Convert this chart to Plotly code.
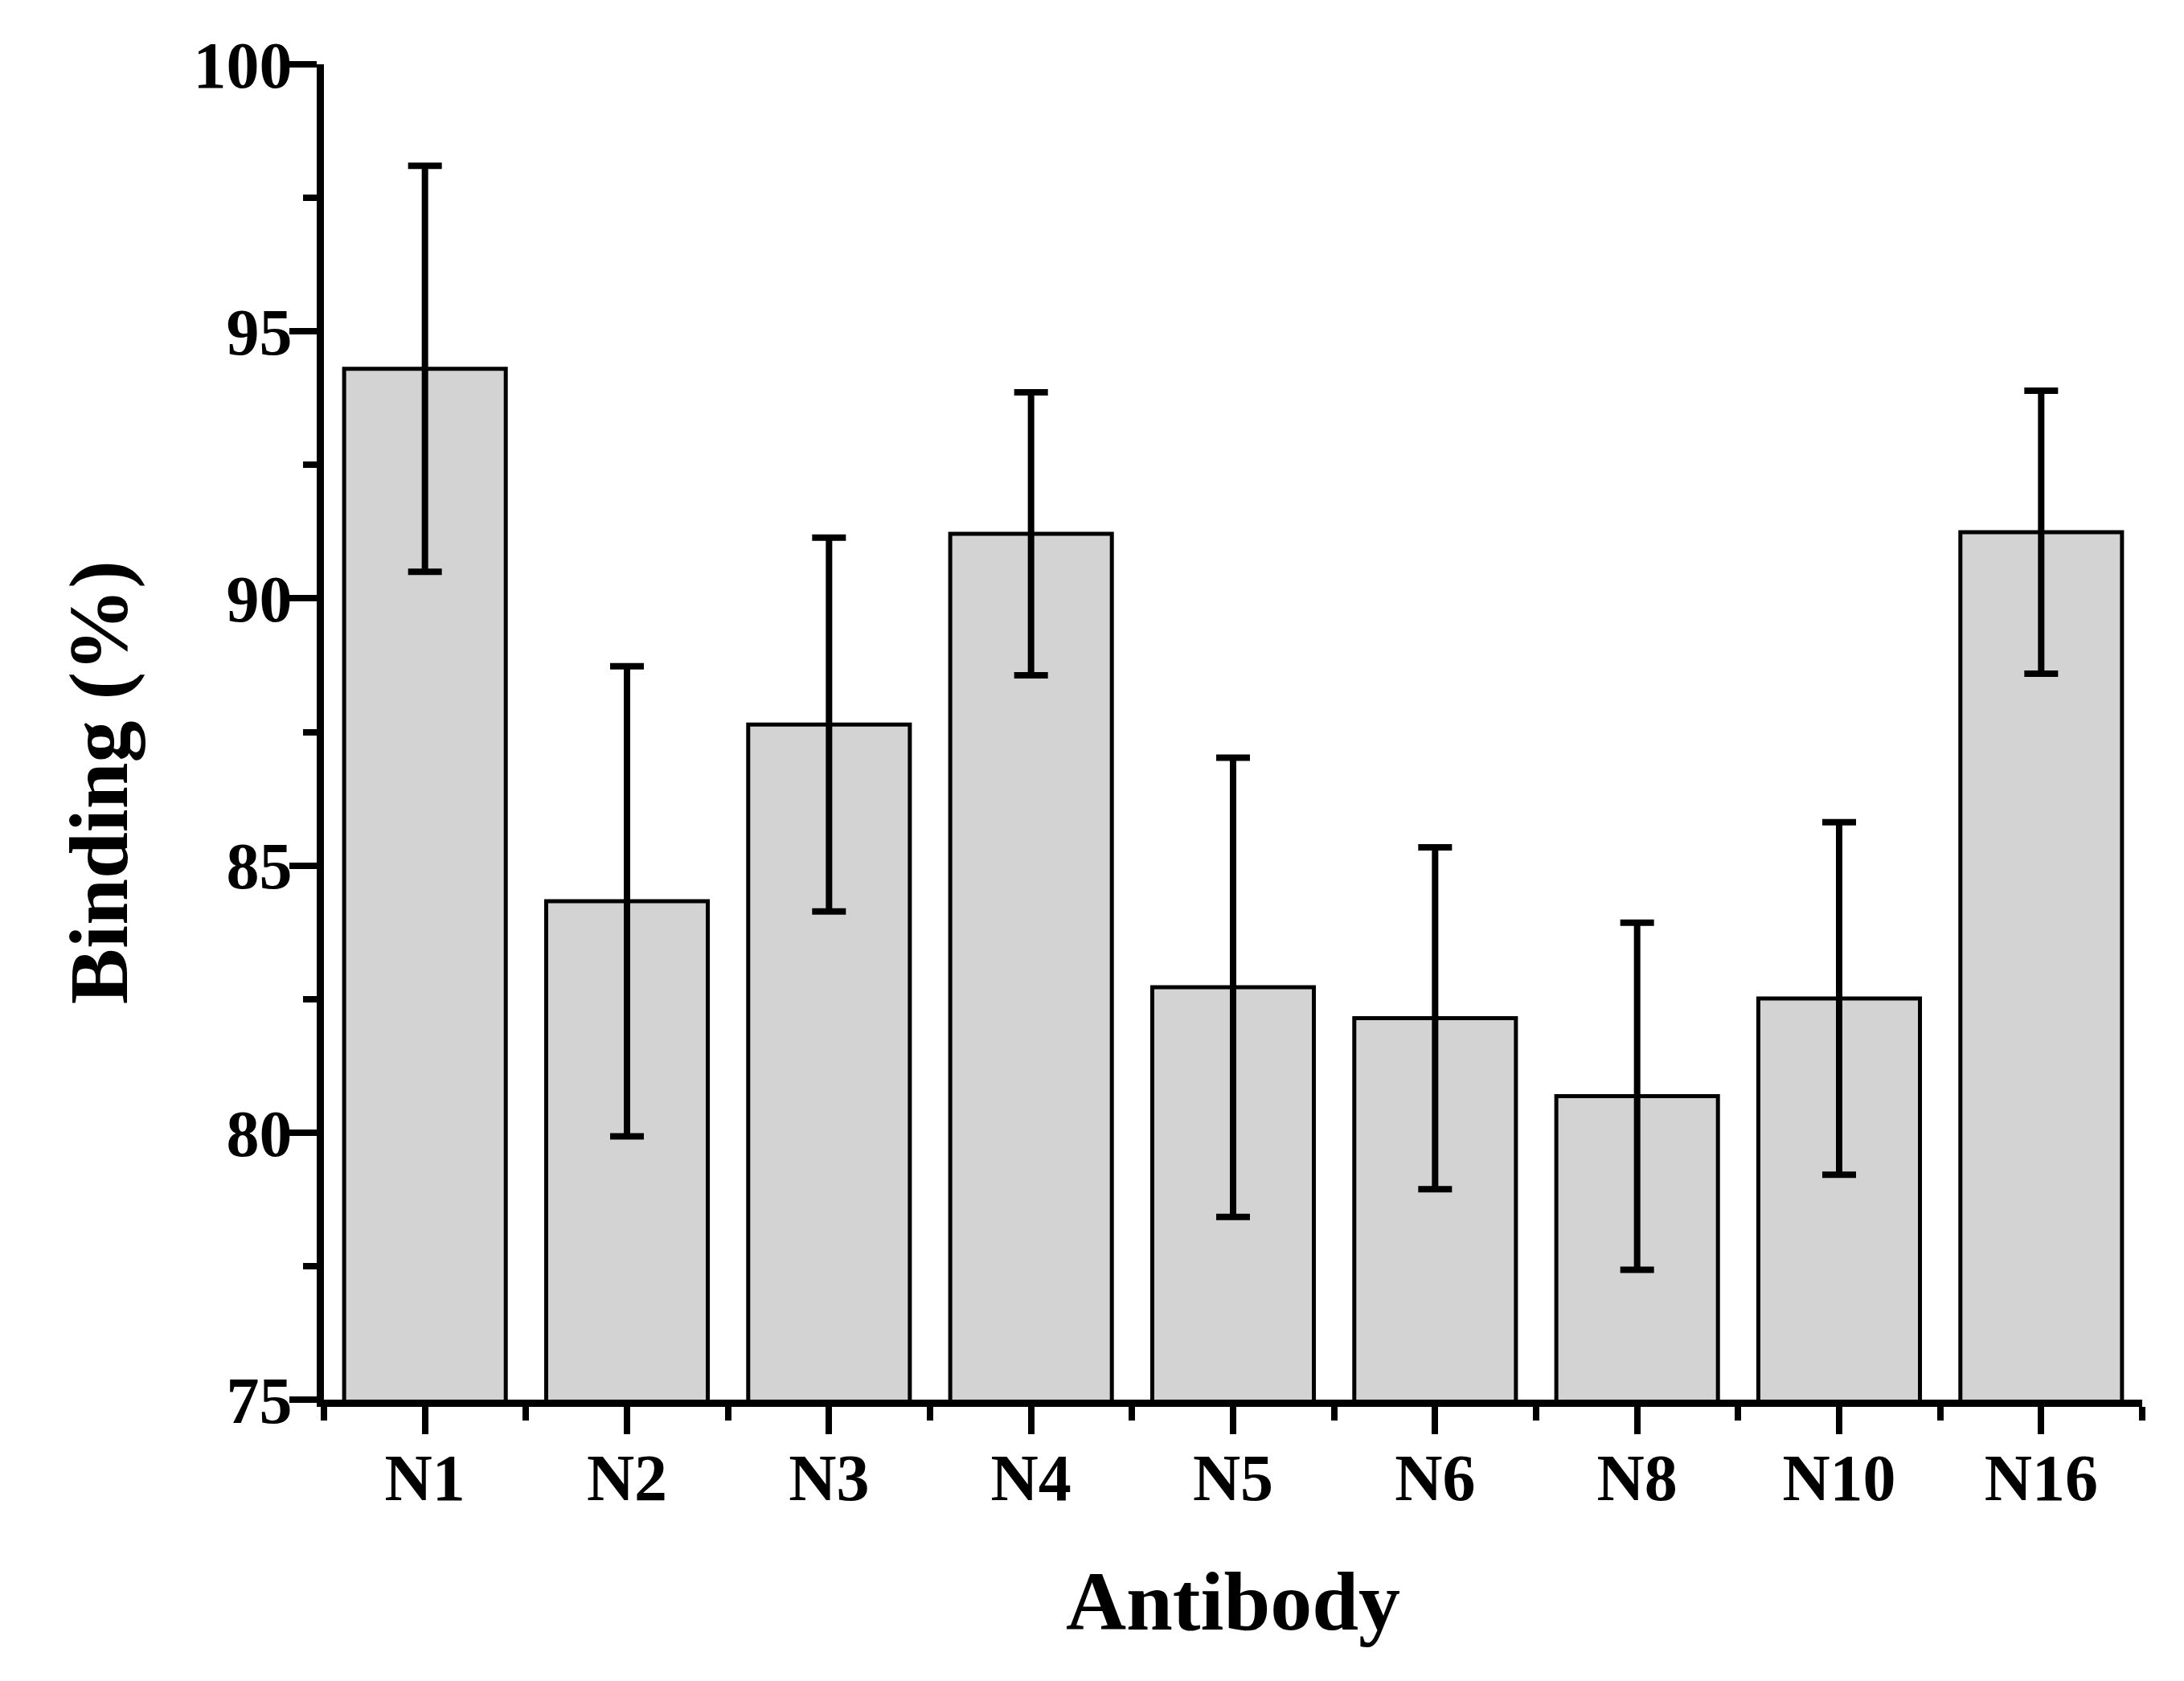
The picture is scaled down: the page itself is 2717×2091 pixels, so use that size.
import plotly.graph_objects as go

antibodies = ["N1", "N2", "N3", "N4", "N5", "N6", "N8", "N10", "N16"]
binding = [94.3, 84.33, 87.64, 91.21, 82.72, 82.14, 80.68, 82.51, 91.24]
binding_err = [3.8, 4.4, 3.5, 2.65, 4.3, 3.2, 3.25, 3.3, 2.65]
y_ticks = [75, 80, 85, 90, 95, 100]

positions = list(range(len(antibodies)))
font_family = "Liberation Serif"

fig = go.Figure()
fig.add_trace(go.Bar(
    x=positions,
    y=binding,
    width=0.8,
    marker=dict(color="#d3d3d3", line=dict(color="black", width=5)),
    error_y=dict(type="data", array=binding_err, color="black",
                 thickness=8, width=21),
))

# y title placed a bit below the plot centre, as in the original
fig.add_annotation(
    text="<b>Binding (%)</b>", textangle=-90,
    xref="paper", yref="paper", x=-0.124, y=0.462,
    xanchor="center", yanchor="middle", showarrow=False,
    font=dict(size=104, family=font_family, color="black"),
)

fig.update_layout(
    width=2717,
    height=2091,
    paper_bgcolor="white",
    plot_bgcolor="white",
    showlegend=False,
    margin=dict(l=395, r=60, t=72, b=358),
    font=dict(family=font_family, color="black", size=82),
    xaxis=dict(
        range=[-0.5, len(antibodies) - 0.5],
        tickvals=positions,
        ticktext=[f"<b>{a}</b>" for a in antibodies],
        ticks="outside", ticklen=34, tickwidth=8, tickcolor="black",
        minor=dict(tick0=0.5, dtick=1, ticks="outside", ticklen=17,
                   tickwidth=8, tickcolor="black"),
        showline=True, linecolor="black", linewidth=9,
        showgrid=False, zeroline=False,
        tickfont=dict(size=82),
        ticklabelstandoff=-16,
        title=dict(text="<b>Antibody</b>", font=dict(size=104), standoff=74),
    ),
    yaxis=dict(
        range=[75, 100],
        tickvals=y_ticks,
        ticktext=[f"<b>{v}</b>" for v in y_ticks],
        ticks="outside", ticklen=34, tickwidth=8, tickcolor="black",
        minor=dict(tick0=75, dtick=2.5, ticks="outside", ticklen=17,
                   tickwidth=8, tickcolor="black"),
        showline=True, linecolor="black", linewidth=9,
        showgrid=False, zeroline=False,
        tickfont=dict(size=82),
        ticklabelstandoff=-20,
    ),
)

fig.write_html("out.html")
